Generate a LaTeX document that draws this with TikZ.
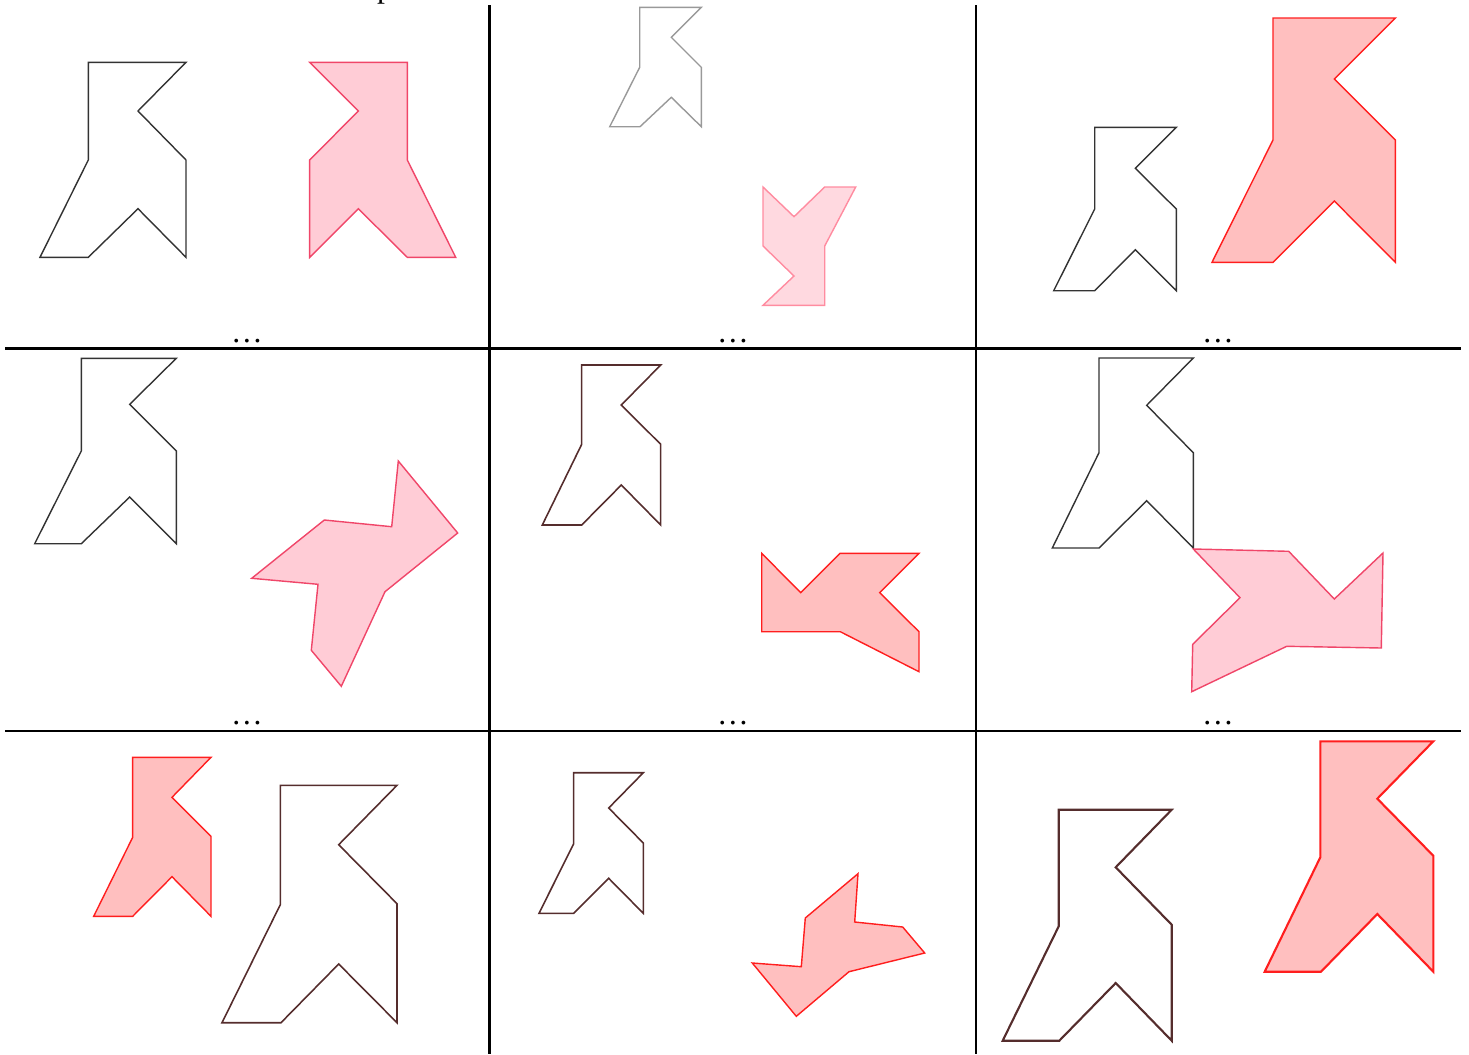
\documentclass[tikz,border=0pt]{standalone}
\usepackage{fontspec}
\setmainfont{Liberation Serif}
\definecolor{pinkfill}{RGB}{255,204,214}
\definecolor{pinkline}{RGB}{240,70,105}
\definecolor{palefill}{RGB}{255,217,224}
\definecolor{paleline}{RGB}{255,140,160}
\definecolor{redfill}{RGB}{255,191,191}
\definecolor{redline}{RGB}{255,30,30}
\definecolor{brownline}{RGB}{85,45,45}
\tikzset{
  grid line/.style={line width=0.7pt},
  plain/.style={draw=black!80, line width=0.4pt, line join=miter},
  faint/.style={draw=black!40, line width=0.4pt},
  brown/.style={draw=brownline, line width=0.45pt},
  pinkpoly/.style={draw=pinkline, fill=pinkfill, line width=0.4pt},
  palepoly/.style={draw=paleline, fill=palefill, line width=0.4pt},
  redpoly/.style={draw=redline, fill=redfill, line width=0.4pt},
  dots/.style={font=\fontsize{9}{10}\selectfont, inner sep=0pt, anchor=base},
}
\begin{document}
\begin{tikzpicture}[x=0.01cm,y=-0.01cm]
\useasboundingbox (0,0) rectangle (1469,1054);
\begin{scope}
\clip (0,0) rectangle (1469,1054);
\node[dots] (ptext) at (385,-3) {p};
\end{scope}
% grid
\draw[grid line] (489.5,5) -- (489.5,1054);
\draw[grid line] (976,5) -- (976,1054);
\draw[grid line] (5,348.5) -- (1461,348.5);
\draw[grid line] (5,731) -- (1461,731);
% dots
\node[dots] (d1) at (247,342.5) {…};
\node[dots] (d2) at (733,342.5) {…};
\node[dots] (d3) at (1218,342.5) {…};
\node[dots] (d4) at (247,724.5) {…};
\node[dots] (d5) at (733,724.5) {…};
\node[dots] (d6) at (1218,724.5) {…};
% panel 1
\draw[plain] (88.3,62.3)--(186,62.3)--(138,111)--(186,160)--(186,257.3)--(138,208.7)--(88.3,257.3)--(40,257.3)--(88.3,160)--cycle;
\draw[pinkpoly] (309.7,62.3)--(407.3,62.3)--(407.3,160)--(455.7,257.3)--(407.3,257.3)--(358.3,208.7)--(309.7,257.3)--(309.7,160)--(358.3,111)--cycle;
% panel 2
\draw[faint] (639.7,7.3)--(701.3,7.3)--(671.3,37.3)--(701.3,67.3)--(701.3,126.7)--(671.3,97.3)--(640,126.7)--(609.7,126.7)--(639.7,67.3)--cycle;
\draw[palepoly] (763,187)--(794,216.7)--(824.7,187)--(855.7,187)--(824.7,246)--(824.7,305.3)--(763,305.3)--(794,276)--(763,246)--cycle;
% panel 3
\draw[plain] (1094.7,127.3)--(1176.3,127.3)--(1135.3,168.3)--(1176.3,209)--(1176.3,290.7)--(1135.3,249.7)--(1094.7,290.7)--(1053.7,290.7)--(1094.7,209)--cycle;
\draw[redpoly] (1273,18)--(1395.3,18)--(1334.3,79)--(1395.3,140)--(1395.3,262.3)--(1334.3,201)--(1273,262.3)--(1212,262.3)--(1273,140)--cycle;
% panel 4
\draw[plain] (81.3,358.3)--(176.3,358.3)--(129.7,404.3)--(176.3,451)--(176.3,543.7)--(129.7,497)--(81.3,543.7)--(34.7,543.7)--(81.3,451)--cycle;
\draw[pinkpoly] (398.3,461)--(457.7,533)--(385,591.7)--(341.3,686.3)--(311.3,650.3)--(318,584.3)--(251.7,578.3)--(324.3,520)--(391.7,526.7)--cycle;
% panel 5
\draw[brown] (581.7,365)--(660.7,365)--(621.3,405)--(660.7,444.3)--(660.7,525)--(621.3,485)--(581.7,525)--(542.3,525)--(581.7,444.3)--cycle;
\draw[redpoly] (761.7,553.3)--(800.7,592.7)--(840,553.3)--(919,553.3)--(879.7,592.7)--(919,631.7)--(919,671.7)--(840.3,631.7)--(761.7,631.7)--cycle;
% panel 6
\draw[plain] (1099,358)--(1193.3,358)--(1146.7,405.3)--(1193.3,452.7)--(1193.3,548)--(1146.7,500.7)--(1099,548)--(1052.3,548)--(1099,452.7)--cycle;
\draw[pinkpoly] (1193.3,549)--(1288.7,551.3)--(1334.3,599)--(1383,553)--(1381.3,648)--(1286.7,646.3)--(1191.7,691.7)--(1192.7,644.3)--(1240,597.7)--cycle;
% panel 7
\draw[redpoly] (132.7,757.3)--(211,757.3)--(172,797.3)--(211,836.3)--(211,916.3)--(172,876.7)--(132.7,916.3)--(93.7,916.3)--(132.7,837.3)--cycle;
\draw[brown] (280.3,785.3)--(397,785.3)--(338.7,844.7)--(397,903.7)--(397,1022.7)--(338.7,964)--(281,1022.7)--(222,1022.7)--(280.3,904.7)--cycle;
% panel 8
\draw[brown] (573.7,772.7)--(643.3,772.7)--(608.7,808)--(643.3,843)--(643.3,913.3)--(608.7,878.3)--(573.7,913.3)--(539,913.3)--(573.7,843.7)--cycle;
\draw[redpoly] (858,873.7)--(854.7,922)--(902.7,927)--(924.7,953)--(849,971.7)--(796.3,1016.3)--(752.3,963)--(801.3,966.7)--(805.3,918)--cycle;
% panel 9
\draw[brown, line width=0.6pt] (1058.7,809.7)--(1171.7,809.7)--(1115.7,867.3)--(1171.7,924.7)--(1171.7,1040.7)--(1115.7,983)--(1059.3,1040.7)--(1002.7,1040.7)--(1058.7,926.3)--cycle;
\draw[redpoly, line width=0.6pt] (1320.3,741.3)--(1433.3,741.3)--(1377.3,798.7)--(1433.3,855.7)--(1433.3,971.7)--(1377.3,914)--(1321,971.7)--(1264.7,971.7)--(1320.3,857.3)--cycle;
\end{tikzpicture}
\end{document}
